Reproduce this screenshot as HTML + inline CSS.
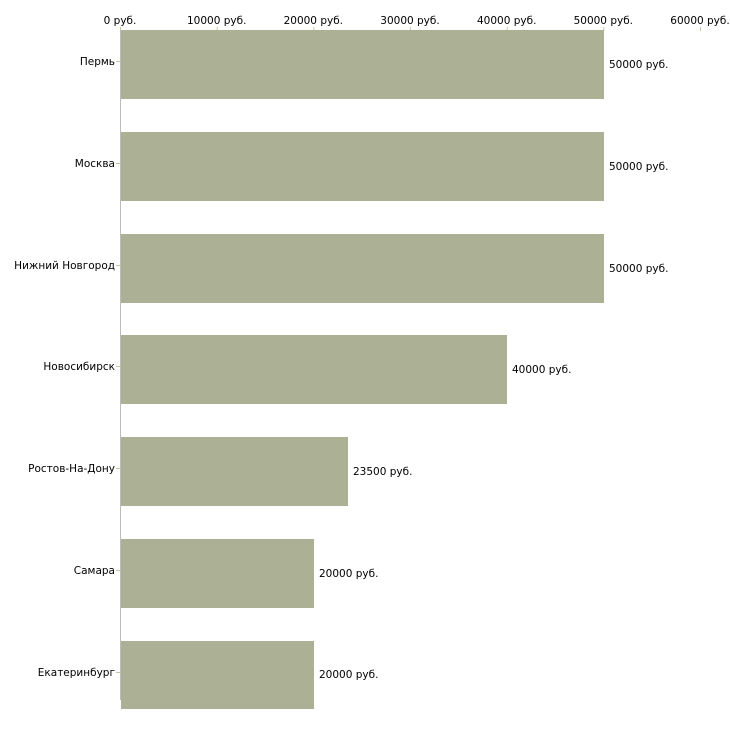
<!DOCTYPE html><html><head><style>body{margin:0;background:#fff}</style></head><body>
<svg width="730" height="730" xmlns="http://www.w3.org/2000/svg" font-family="DejaVu Sans, Verdana, sans-serif" font-size="10.5" fill="#000">
<g text-anchor="middle">
<text x="120" y="24">0 руб.</text>
<text x="216.7" y="24">10000 руб.</text>
<text x="313.3" y="24">20000 руб.</text>
<text x="410" y="24">30000 руб.</text>
<text x="506.7" y="24">40000 руб.</text>
<text x="603.3" y="24">50000 руб.</text>
<text x="700" y="24">60000 руб.</text>
</g>
<g stroke="#c8c89a" stroke-width="1">
<line x1="120.5" y1="27" x2="120.5" y2="31"/><line x1="217.2" y1="27" x2="217.2" y2="31"/><line x1="313.8" y1="27" x2="313.8" y2="31"/><line x1="410.5" y1="27" x2="410.5" y2="31"/><line x1="507.2" y1="27" x2="507.2" y2="31"/><line x1="603.8" y1="27" x2="603.8" y2="31"/><line x1="700.5" y1="27" x2="700.5" y2="31"/>
</g>
<line x1="120.5" y1="30" x2="120.5" y2="700" stroke="#bbb"/>
<g fill="#acb196">
<rect x="121" y="30" width="483" height="69"/>
<rect x="121" y="132" width="483" height="69"/>
<rect x="121" y="234" width="483" height="69"/>
<rect x="121" y="335" width="386" height="69"/>
<rect x="121" y="437" width="227" height="69"/>
<rect x="121" y="539" width="193" height="69"/>
<rect x="121" y="641" width="193" height="68"/>
</g>
<g stroke="#c8c89a"><line x1="116" y1="61.5" x2="120" y2="61.5"/><line x1="116" y1="163.5" x2="120" y2="163.5"/><line x1="116" y1="265.5" x2="120" y2="265.5"/><line x1="116" y1="366.5" x2="120" y2="366.5"/><line x1="116" y1="468.5" x2="120" y2="468.5"/><line x1="116" y1="570.5" x2="120" y2="570.5"/><line x1="116" y1="672.5" x2="120" y2="672.5"/></g>
<g text-anchor="end">
<text x="115" y="65">Пермь</text>
<text x="115" y="167">Москва</text>
<text x="115" y="269">Нижний Новгород</text>
<text x="115" y="370">Новосибирск</text>
<text x="115" y="472">Ростов-На-Дону</text>
<text x="115" y="574">Самара</text>
<text x="115" y="676">Екатеринбург</text>
</g>
<text x="609" y="68">50000 руб.</text>
<text x="609" y="170">50000 руб.</text>
<text x="609" y="272">50000 руб.</text>
<text x="512" y="373">40000 руб.</text>
<text x="353" y="475">23500 руб.</text>
<text x="319" y="577">20000 руб.</text>
<text x="319" y="678">20000 руб.</text>
</svg>
</body></html>
